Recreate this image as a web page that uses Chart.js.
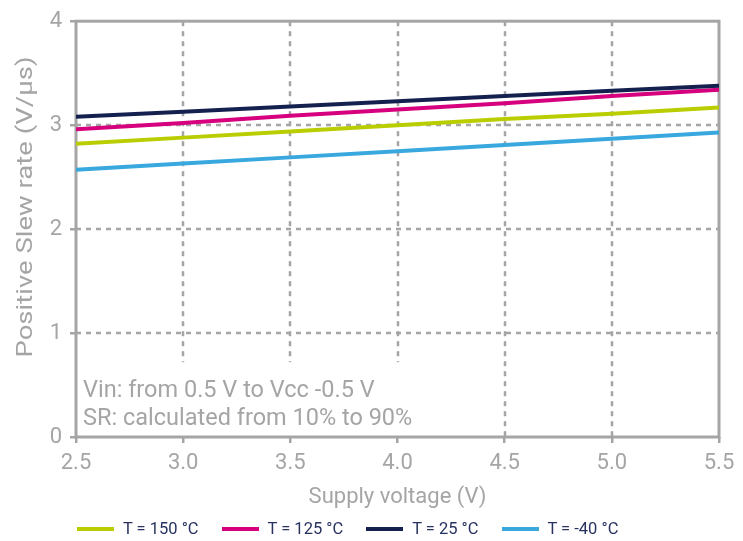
<!DOCTYPE html>
<html>
<head>
<meta charset="utf-8">
<script src="https://cdn.jsdelivr.net/npm/chart.js@4"></script>
<style>
  body { margin: 0; background: #fff; }
  #wrap { position: relative; width: 743px; height: 541px; }
  #legend { position: absolute; left: 77px; top: 519px; display: flex; font-family: Roboto, sans-serif; font-size: 16.5px; color: #27325f; }
  #legend .item { display: flex; align-items: center; margin-right: 23px; }
  #legend .swatch { width: 37px; height: 4px; margin-right: 9px; }
</style>
</head>
<body>
<div id="wrap">
  <canvas id="slewChart" width="743" height="541"></canvas>
  <div id="legend"></div>
</div>
<script>
// Data
const voltage = [2.5, 3.0, 3.5, 4.0, 4.5, 5.0, 5.5];
const sr150 = [2.82, 2.88, 2.94, 3.00, 3.06, 3.11, 3.17];
const sr125 = [2.96, 3.02, 3.09, 3.15, 3.21, 3.28, 3.34];
const sr25 = [3.08, 3.13, 3.18, 3.23, 3.28, 3.33, 3.38];
const srM40 = [2.57, 2.63, 2.69, 2.75, 2.81, 2.87, 2.93];

const seriesLabels = ['T = 150 °C', 'T = 125 °C', 'T = 25 °C', 'T = -40 °C'];
const seriesColors = ['#b9cd00', '#d6007e', '#14214f', '#38a8df'];
const seriesValues = [sr150, sr125, sr25, srM40];

const yTickValues = [0, 1, 2, 3, 4];
const xTickValues = [2.5, 3.0, 3.5, 4.0, 4.5, 5.0, 5.5];

const GRAY = '#a5a5a5';
const FONT = 'Roboto, sans-serif';

const datasets = seriesValues.map((vals, i) => ({
    label: seriesLabels[i],
    data: vals.map((v, j) => ({ x: voltage[j], y: v })),
    borderColor: seriesColors[i],
    borderWidth: 4,
    pointRadius: 0,
    fill: false,
    tension: 0
}));
// draw order: the navy line sits on top
datasets.forEach((d, i) => { d.order = 4 - i; });

// Grid, frame, notes and rotated y title
const framePlugin = {
    id: 'frame',
    beforeDatasetsDraw(chart) {
        const { ctx, chartArea: a, scales: { x, y } } = chart;
        ctx.save();
        ctx.strokeStyle = GRAY;
        ctx.lineWidth = 2.5;
        ctx.setLineDash([5, 5]);
        [1, 2, 3].forEach(v => {
            const py = Math.round(y.getPixelForValue(v));
            ctx.beginPath();
            ctx.moveTo(a.left, py);
            ctx.lineTo(a.right, py);
            ctx.stroke();
        });
        // the note box cuts the left verticals short
        const cut = y.getPixelForValue(0.72);
        [3.0, 3.5, 4.0, 4.5, 5.0].forEach(v => {
            const px = Math.round(x.getPixelForValue(v));
            ctx.beginPath();
            ctx.moveTo(px, a.top);
            ctx.lineTo(px, v <= 4.0 ? cut : a.bottom);
            ctx.stroke();
        });
        ctx.setLineDash([]);
        ctx.lineWidth = 3;
        ctx.strokeRect(a.left, a.top, a.right - a.left, a.bottom - a.top);
        ctx.restore();
    },
    afterDraw(chart) {
        const { ctx, chartArea: a } = chart;
        ctx.save();
        ctx.fillStyle = GRAY;
        ctx.font = '23.5px ' + FONT;
        ctx.textBaseline = 'alphabetic';
        ctx.textAlign = 'left';
        ctx.fillText('Vin: from 0.5 V to Vcc -0.5 V', a.left + 7, a.bottom - 40);
        ctx.fillText('SR: calculated from 10% to 90%', a.left + 7, a.bottom - 12);
        // y axis title (stretched along its length like the original)
        ctx.translate(26, 207);
        ctx.rotate(-Math.PI / 2);
        ctx.scale(1.25, 1);
        ctx.textAlign = 'center';
        ctx.textBaseline = 'middle';
        ctx.font = '22px ' + FONT;
        ctx.fillText('Positive Slew rate (V/\u00b5s)', 0, 0);
        ctx.restore();
    }
};

const ctx = document.getElementById('slewChart').getContext('2d');
new Chart(ctx, {
    type: 'line',
    data: { datasets: datasets },
    options: {
        responsive: false,
        animation: false,
        layout: { padding: { top: 18, right: 24, left: 0, bottom: 30 } },
        plugins: {
            legend: { display: false },
            tooltip: { enabled: false }
        },
        scales: {
            x: {
                type: 'linear',
                min: 2.5,
                max: 5.5,
                afterBuildTicks: s => { s.ticks = xTickValues.map(v => ({ value: v })); },
                afterFit: s => { s.height = 74; },
                grid: { drawOnChartArea: false, drawTicks: true, tickLength: 6, color: GRAY, lineWidth: 2.5 },
                border: { display: false },
                ticks: {
                    color: GRAY,
                    font: { family: FONT, size: 22 },
                    padding: 7,
                    maxRotation: 0,
                    callback: v => v.toFixed(1)
                },
                title: {
                    display: true,
                    text: 'Supply voltage (V)',
                    color: GRAY,
                    font: { family: FONT, size: 22 },
                    padding: { top: 0, bottom: 0 }
                }
            },
            y: {
                min: 0,
                max: 4,
                afterBuildTicks: s => { s.ticks = yTickValues.map(v => ({ value: v })); },
                afterFit: s => { s.width = 76; },
                grid: { drawOnChartArea: false, drawTicks: true, tickLength: 6, color: GRAY, lineWidth: 2.5 },
                border: { display: false },
                ticks: {
                    color: GRAY,
                    font: { family: FONT, size: 22 },
                    padding: 8
                }
            }
        }
    },
    plugins: [framePlugin]
});

// HTML legend built from the series arrays
const legend = document.getElementById('legend');
seriesLabels.forEach((lab, i) => {
    const item = document.createElement('div');
    item.className = 'item';
    const sw = document.createElement('span');
    sw.className = 'swatch';
    sw.style.background = seriesColors[i];
    const txt = document.createElement('span');
    txt.textContent = lab;
    item.appendChild(sw);
    item.appendChild(txt);
    legend.appendChild(item);
});
</script>
</body>
</html>
